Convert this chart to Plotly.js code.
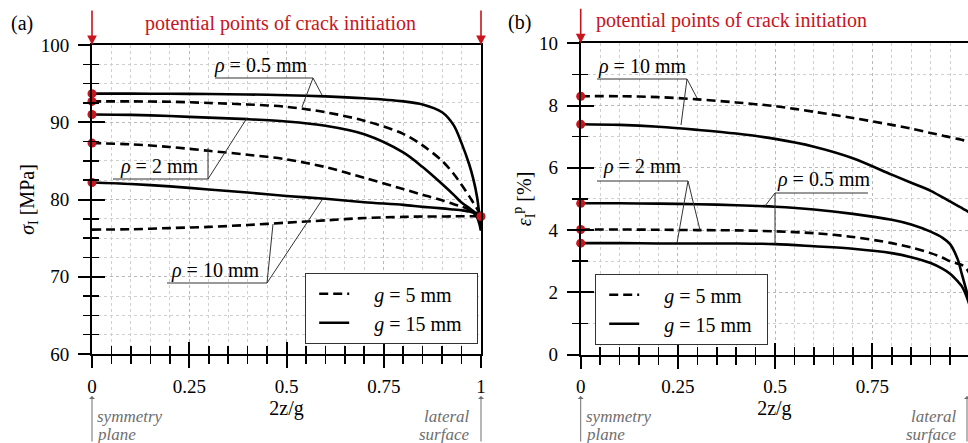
<!DOCTYPE html>
<html>
<head>
<meta charset="utf-8">
<script src="https://cdn.plot.ly/plotly-3.0.1.min.js"></script>
<style>html,body{margin:0;padding:0;background:#fff}#chart{width:968px;height:443px}</style>
</head>
<body>
<div id="chart"></div>
<script>
// ---- data ----
const X = [0, 0.1, 0.2, 0.3, 0.4, 0.5, 0.6, 0.7, 0.8, 0.85, 0.9, 0.93, 0.95, 0.97, 0.98, 0.99, 1.0];

// (a) sigma_I [MPa]
const sig_r05_g15 = [93.7, 93.7, 93.68, 93.65, 93.6, 93.5, 93.35, 93.1, 92.7, 92.3, 91.3, 89.6, 87.3, 84.5, 82.7, 80.3, 76.0];
const sig_r05_g5  = [92.7, 92.7, 92.65, 92.5, 92.3, 92.0, 91.3, 90.2, 88.5, 87.0, 85.0, 83.3, 81.9, 80.4, 79.6, 78.8, 78.0];
const sig_r2_g15  = [91.0, 90.95, 90.8, 90.6, 90.4, 90.1, 89.55, 88.45, 86.1, 84.2, 82.0, 80.6, 79.6, 78.9, 78.5, 78.1, 77.8];
const sig_r2_g5   = [87.3, 87.15, 86.8, 86.3, 85.8, 85.2, 84.2, 82.8, 81.35, 80.6, 79.9, 79.4, 79.1, 78.7, 78.5, 78.2, 77.9];
const sig_r10_g15 = [82.2, 82.0, 81.7, 81.3, 80.9, 80.45, 80.1, 79.65, 79.3, 79.05, 78.85, 78.7, 78.6, 78.45, 78.3, 77.7, 76.0];
const sig_r10_g5  = [76.1, 76.15, 76.3, 76.45, 76.7, 77.0, 77.3, 77.6, 77.75, 77.8, 77.8, 77.82, 77.83, 77.84, 77.84, 77.84, 77.8];

// (b) eps_I^p [%]
const eps_r10_g5  = [8.3, 8.3, 8.27, 8.2, 8.1, 7.98, 7.8, 7.6, 7.38, 7.26, 7.12, 7.04, 6.98, 6.93, 6.9, 6.87, 6.85];
const eps_r10_g15 = [7.4, 7.38, 7.32, 7.22, 7.1, 6.93, 6.68, 6.31, 5.78, 5.52, 5.26, 5.06, 4.92, 4.78, 4.71, 4.64, 4.56];
const eps_r05_g15 = [4.86, 4.86, 4.85, 4.83, 4.8, 4.75, 4.66, 4.52, 4.33, 4.18, 3.95, 3.76, 3.55, 3.05, 2.6, 2.15, 1.7];
const eps_r2_g5   = [4.02, 4.02, 4.01, 4.0, 3.99, 3.96, 3.9, 3.78, 3.58, 3.44, 3.26, 3.12, 3.0, 2.92, 2.88, 2.8, 2.6];
const eps_r2_g15  = [3.58, 3.58, 3.57, 3.57, 3.57, 3.55, 3.48, 3.4, 3.26, 3.13, 2.94, 2.76, 2.6, 2.35, 2.2, 1.95, 1.6];

const xTickVals = [0, 0.25, 0.5, 0.75, 1];
const xTickText = ['0', '0.25', '0.5', '0.75', '1'];
const legendNames = ['&nbsp;&nbsp;&nbsp;&nbsp;<i>g</i> = 5 mm', '&nbsp;&nbsp;&nbsp;&nbsp;<i>g</i> = 15 mm&nbsp;&nbsp;'];

// ---- style ----
const W = 968, H = 443;
const FONT = 'Liberation Serif, Times New Roman, serif';
const RED = '#c8141c';
const DASH = '9px,5px';
const LW = 2.6;

function curve(x, y, xa, ya, dashed, legend, showlegend, name, rank) {
  return {
    x: x, y: y, xaxis: xa, yaxis: ya, type: 'scatter', mode: 'lines',
    line: {color: '#000', width: LW, dash: dashed ? DASH : 'solid', shape: 'spline', smoothing: 0.9},
    showlegend: !!showlegend, legend: legend, name: name || '', legendrank: rank || 1000,
    hoverinfo: 'skip', cliponaxis: true
  };
}

const data = [
  curve(X, sig_r05_g5, 'x', 'y', true, 'legend', true, legendNames[0], 1),
  curve(X, sig_r05_g15, 'x', 'y', false, 'legend', true, legendNames[1], 2),
  curve(X, sig_r2_g15, 'x', 'y', false, 'legend', false),
  curve(X, sig_r2_g5, 'x', 'y', true, 'legend', false),
  curve(X, sig_r10_g15, 'x', 'y', false, 'legend', false),
  curve(X, sig_r10_g5, 'x', 'y', true, 'legend', false),

  curve(X, eps_r10_g5, 'x2', 'y2', true, 'legend2', true, legendNames[0], 1),
  curve(X, eps_r10_g15, 'x2', 'y2', false, 'legend2', true, legendNames[1], 2),
  curve(X, eps_r05_g15, 'x2', 'y2', false, 'legend2', false),
  curve(X, eps_r2_g5, 'x2', 'y2', true, 'legend2', false),
  curve(X, eps_r2_g15, 'x2', 'y2', false, 'legend2', false)
];

// invisible carriers so the overlaying tick axes (inner half of crossing ticks) get drawn
function carrier(xa, ya, y) {
  return {x: X, y: y, xaxis: xa, yaxis: ya, type: 'scatter', mode: 'lines', opacity: 0,
    line: {width: 0.1, color: '#fff'}, showlegend: false, hoverinfo: 'skip'};
}
data.push(carrier('x3', 'y', sig_r10_g5), carrier('x', 'y3', sig_r10_g5),
          carrier('x4', 'y2', eps_r2_g15), carrier('x2', 'y4', eps_r2_g15));

// red dots: potential crack initiation points
const last = X.length - 1;
const leftDotX = [X[0], X[0], X[0], X[0], X[0], X[last]];
const leftDotY = [sig_r05_g15[0], sig_r05_g5[0], sig_r2_g15[0], sig_r2_g5[0], sig_r10_g15[0], sig_r10_g5[last]];
const rightDotY = [eps_r10_g5[0], eps_r10_g15[0], eps_r05_g15[0], eps_r2_g5[0], eps_r2_g15[0]];
data.push({x: leftDotX, y: leftDotY, xaxis: 'x', yaxis: 'y', mode: 'markers', type: 'scatter',
  marker: {color: RED, size: 9}, showlegend: false, cliponaxis: false, hoverinfo: 'skip'});
data.push({x: rightDotY.map(() => X[0]), y: rightDotY, xaxis: 'x2', yaxis: 'y2', mode: 'markers', type: 'scatter',
  marker: {color: RED, size: 9}, showlegend: false, cliponaxis: false, hoverinfo: 'skip'});

// ---- axes ----
const px = v => v / W;
const py = v => 1 - v / H;

function xaxisBase(domain, range, anchor) {
  return {
    domain: domain, range: range, anchor: anchor,
    tickvals: xTickVals, ticktext: xTickText,
    ticks: 'outside', ticklen: 12, tickwidth: 2, tickcolor: '#000',
    ticklabelstandoff: 2,
    showline: true, linewidth: 2, linecolor: '#000', mirror: true,
    showgrid: true, gridcolor: '#b8b8b8', griddash: 'dot', gridwidth: 1,
    zeroline: false,
    minor: {dtick: 0.05, ticks: 'outside', ticklen: 8, tickwidth: 1.6, tickcolor: '#000',
            showgrid: true, gridcolor: '#cfcfcf', griddash: 'dot', gridwidth: 1},
    tickfont: {family: FONT, size: 19, color: '#000'},
    title: {text: '2z/g', font: {family: FONT, size: 20, color: '#000'}, standoff: 4}
  };
}
function yaxisBase(domain, range, dtick, minorDtick, anchor, title, standoff) {
  return {
    domain: domain, range: range, anchor: anchor, dtick: dtick, tick0: 0,
    ticks: 'outside', ticklen: 12, tickwidth: 2, tickcolor: '#000',
    ticklabelstandoff: 5,
    showline: true, linewidth: 2, linecolor: '#000', mirror: true,
    showgrid: true, gridcolor: '#b8b8b8', griddash: 'dot', gridwidth: 1,
    zeroline: false,
    minor: {dtick: minorDtick, ticks: 'outside', ticklen: 7, tickwidth: 1.6, tickcolor: '#000',
            showgrid: true, gridcolor: '#cfcfcf', griddash: 'dot', gridwidth: 1},
    tickfont: {family: FONT, size: 19, color: '#000'},
    title: {text: title, font: {family: FONT, size: 20, color: '#000'}, standoff: standoff}
  };
}
function xOverlay(over, range, anchor) {
  return {overlaying: over, anchor: anchor, range: range, tickvals: xTickVals, showticklabels: false,
    ticks: 'inside', ticklen: 12, tickwidth: 2, tickcolor: '#000', showgrid: false, showline: false, zeroline: false,
    minor: {dtick: 0.05, ticks: 'inside', ticklen: 8, tickwidth: 1.6, tickcolor: '#000', showgrid: false}};
}
function yOverlay(over, range, dtick, minorDtick, anchor) {
  return {overlaying: over, anchor: anchor, range: range, dtick: dtick, tick0: 0, showticklabels: false,
    ticks: 'inside', ticklen: 13, tickwidth: 2, tickcolor: '#000', showgrid: false, showline: false, zeroline: false,
    minor: {dtick: minorDtick, ticks: 'inside', ticklen: 7, tickwidth: 1.6, tickcolor: '#000', showgrid: false}};
}

const xdomL = [px(92), px(481)], ydomL = [py(354), py(45)];
const xdomR = [px(580.7), 1], ydomR = [py(354.6), py(43.3)];
const xrL = [0, 1], xrR = [0, (968 - 580.7) / 388.8];
const yrL = [60, 100], yrR = [0, 10];

// ---- annotations ----
const ann = [];
function txt(x, y, text, opt) {
  ann.push(Object.assign({xref: 'paper', yref: 'paper', x: px(x), y: py(y), text: text, showarrow: false,
    xanchor: 'center', yanchor: 'middle', font: {family: FONT, size: 20, color: '#000'}}, opt || {}));
}
txt(22, 23, '(a)');
txt(519, 22, '(b)');
txt(280, 23, 'potential points of crack initiation', {font: {family: FONT, size: 20, color: RED}});
txt(731, 21, 'potential points of crack initiation', {font: {family: FONT, size: 20, color: RED}});

txt(260, 65, '<i>ρ</i> = 0.5 mm');
txt(159, 167, '<i>ρ</i> = 2 mm');
txt(215, 270, '<i>ρ</i> = 10 mm');
txt(642, 67, '<i>ρ</i> = 10 mm');
txt(642, 167, '<i>ρ</i> = 2 mm');
txt(823, 179, '<i>ρ</i> = 0.5 mm');

const GRAY = '#6e6e6e';
const gfont = {family: FONT, size: 17, color: GRAY};
txt(95, 416, '<i>symmetry</i>', {xanchor: 'left', font: gfont});
txt(95, 434, '<i>plane</i>', {xanchor: 'left', font: gfont});
txt(472, 416, '<i>lateral</i>', {xanchor: 'right', font: gfont});
txt(472, 434, '<i>surface</i>', {xanchor: 'right', font: gfont});
txt(584, 416, '<i>symmetry</i>', {xanchor: 'left', font: gfont});
txt(584, 434, '<i>plane</i>', {xanchor: 'left', font: gfont});
txt(959, 416, '<i>lateral</i>', {xanchor: 'right', font: gfont});
txt(959, 434, '<i>surface</i>', {xanchor: 'right', font: gfont});

// red arrows (down to axis top)
function redArrow(xref, yref, x, y) {
  ann.push({xref: xref, yref: yref, x: x, y: y, ax: 0, ay: -36, text: '', showarrow: true,
    arrowhead: 2, arrowsize: 1.2, arrowwidth: 1.6, arrowcolor: RED});
}
redArrow('x', 'y', 0, 100);
redArrow('x', 'y', 1, 100);
redArrow('x2', 'y2', 0, 10);
// gray arrows (up toward axis)
function grayArrow(xPx) {
  ann.push({xref: 'paper', yref: 'paper', x: px(xPx), y: py(396), ax: 0, ay: 50, text: '', showarrow: true,
    arrowhead: 1, arrowsize: 1, arrowwidth: 1, arrowcolor: GRAY});
}
grayArrow(92); grayArrow(481); grayArrow(580.7); grayArrow(967);

// leader lines
const shapes = [];
function seg(x0, y0, x1, y1) {
  shapes.push({type: 'line', xref: 'paper', yref: 'paper', x0: px(x0), y0: py(y0), x1: px(x1), y1: py(y1),
    line: {color: '#333', width: 1}});
}
seg(215, 78, 313, 78); seg(313, 78, 322, 95); seg(313, 78, 302, 107);
seg(113, 179, 208, 179); seg(208, 179, 208, 148); seg(208, 179, 247, 118);
seg(167, 283, 267, 283); seg(267, 283, 273, 224); seg(267, 283, 322, 200);
seg(597, 79, 687, 79); seg(687, 79, 697, 98); seg(687, 79, 681, 125);
seg(597, 181, 688, 181); seg(688, 181, 677, 243); seg(688, 181, 700, 230);
seg(775, 193, 868, 193); seg(775, 193, 765, 206); seg(775, 193, 775, 244);

const legendStyle = (x, y) => ({
  x: px(x), y: py(y), xanchor: 'left', yanchor: 'top', xref: 'paper', yref: 'paper',
  bgcolor: '#fff', bordercolor: '#333', borderwidth: 1.2,
  font: {family: FONT, size: 20, color: '#000'}, tracegroupgap: 0, indentation: 8,
  traceorder: 'normal'
});

const layout = {
  width: W, height: H, margin: {l: 0, r: 0, t: 0, b: 0},
  paper_bgcolor: '#fff', plot_bgcolor: '#fff',
  showlegend: true,
  xaxis: xaxisBase(xdomL, xrL, 'y'),
  yaxis: yaxisBase(ydomL, yrL, 10, 2.5, 'x', '<i>σ</i><sub>I</sub> [MPa]', 1),
  xaxis2: xaxisBase(xdomR, xrR, 'y2'),
  yaxis2: yaxisBase(ydomR, yrR, 2, 1, 'x2', '<i>ε</i><sub>I</sub><sup>p</sup> [%]', 2),
  xaxis3: xOverlay('x', xrL, 'y'),
  yaxis3: yOverlay('y', yrL, 10, 2.5, 'x'),
  xaxis4: xOverlay('x2', xrR, 'y2'),
  yaxis4: yOverlay('y2', yrR, 2, 1, 'x2'),
  legend: legendStyle(305, 273),
  legend2: legendStyle(595, 274),
  annotations: ann,
  shapes: shapes
};

Plotly.newPlot('chart', data, layout, {staticPlot: true, displayModeBar: false});
</script>
</body>
</html>
